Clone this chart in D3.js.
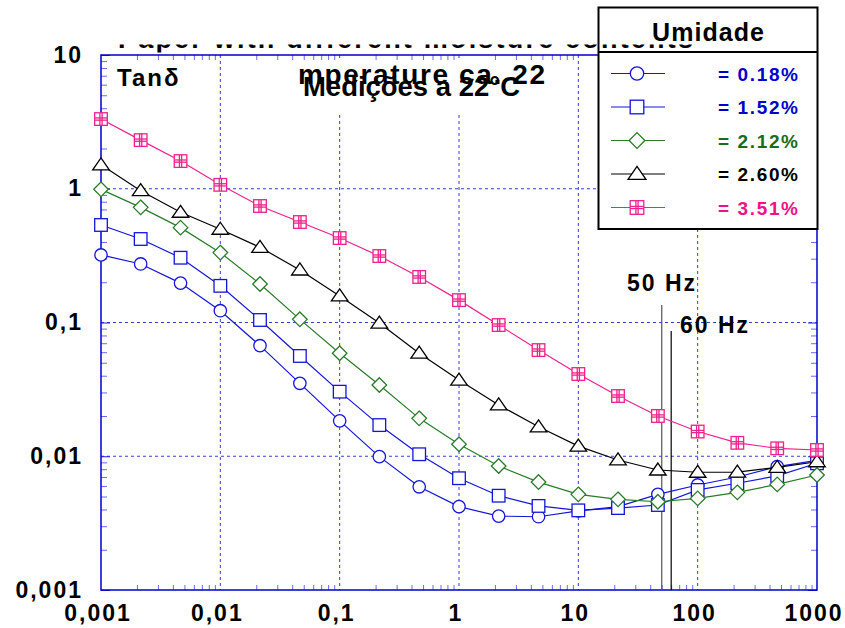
<!DOCTYPE html>
<html>
<head>
<meta charset="utf-8">
<script src="https://cdn.jsdelivr.net/npm/d3@7"></script>
<style>
  body { margin: 0; background: #fff; }
  text { font-family: "Liberation Sans", Arial, sans-serif; font-weight: bold; }
</style>
</head>
<body>
<div id="container"></div>
<script>
// frequency (Hz), 3 points per decade
const freq = [0.001, 0.00215, 0.00464, 0.01, 0.0215, 0.0464, 0.1, 0.215, 0.464, 1,
              2.15, 4.64, 10, 21.5, 46.4, 100, 215, 464, 1000];

// tan delta per moisture content
const h018 = [0.32, 0.274, 0.197, 0.1225, 0.0671, 0.0351, 0.0184, 0.00993, 0.00591, 0.0042,
              0.00357, 0.00353, 0.0039, 0.0042, 0.00519, 0.0061, 0.007, 0.00836, 0.0093];
const h152 = [0.536, 0.421, 0.305, 0.188, 0.1044, 0.0562, 0.0304, 0.0171, 0.01035, 0.00685,
              0.00507, 0.00425, 0.00394, 0.0041, 0.00432, 0.0056, 0.00628, 0.00713, 0.00886];
const h212 = [0.99, 0.726, 0.512, 0.333, 0.194, 0.1056, 0.0589, 0.0341, 0.0192, 0.0123,
              0.00845, 0.00641, 0.00519, 0.00476, 0.00457, 0.00484, 0.00537, 0.00616, 0.00724];
const h260 = [1.51, 0.967, 0.667, 0.498, 0.365, 0.247, 0.158, 0.099, 0.059, 0.0371,
              0.0242, 0.0166, 0.0119, 0.00938, 0.00789, 0.00759, 0.0076, 0.00826, 0.0091];
const h351 = [3.32, 2.31, 1.61, 1.07, 0.743, 0.564, 0.428, 0.314, 0.219, 0.147,
              0.0957, 0.0622, 0.0412, 0.0282, 0.020, 0.0153, 0.0126, 0.01146, 0.01114];

const legendLabels = ["= 0.18%", "= 1.52%", "= 2.12%", "= 2.60%", "= 3.51%"];
const xTicks = [0.001, 0.01, 0.1, 1, 10, 100, 1000];
const xTickLabels = ["0,001", "0,01", "0,1", "1", "10", "100", "1000"];
const yTicks = [0.001, 0.01, 0.1, 1, 10];
const yTickLabels = ["0,001", "0,01", "0,1", "1", "10"];
const markLines = [50, 60];

const series = [
  { vals: h018, shape: 'circle',   color: '#1414dc', text: '#0000cc' },
  { vals: h152, shape: 'square',   color: '#1414dc', text: '#0000cc' },
  { vals: h212, shape: 'diamond',  color: '#2a7a2a', text: '#1b6b1b' },
  { vals: h260, shape: 'triangle', color: '#000000', text: '#000000' },
  { vals: h351, shape: 'grid',     color: '#f0208c', text: '#ee1188' }
];

const width = 845, height = 628;
const pl = 101, pr = 817, pt = 55, pb = 590;

const x = d3.scaleLog().domain([0.001, 1000]).range([pl, pr]);
const y = d3.scaleLog().domain([0.001, 10]).range([pb, pt]);

const svg = d3.select('#container').append('svg')
  .attr('width', width).attr('height', height);

const isDecade = v => Math.abs(Math.log10(v) - Math.round(Math.log10(v))) < 1e-9;

// grid
const gx = xTicks.slice(1, -1), gy = yTicks.slice(1, -1);
svg.append('g').selectAll('line').data(gx).enter().append('line')
  .attr('x1', d => x(d)).attr('x2', d => x(d)).attr('y1', pt).attr('y2', pb)
  .attr('stroke', '#3a3ae8').attr('stroke-width', 1).attr('stroke-dasharray', '3,3');
svg.append('g').selectAll('line').data(gy).enter().append('line')
  .attr('y1', d => y(d)).attr('y2', d => y(d)).attr('x1', pl).attr('x2', pr)
  .attr('stroke', '#3a3ae8').attr('stroke-width', 1).attr('stroke-dasharray', '3,3');

// white box behind the subtitle text
svg.append('rect').attr('x', 292).attr('y', 61).attr('width', 258).attr('height', 54).attr('fill', '#fff');

// minor ticks on all four sides (drawn inward)
const xMinor = x.ticks().filter(v => !isDecade(v));
const yMinor = y.ticks().filter(v => !isDecade(v));
const tickCol = '#6b6bf0';
svg.append('g').attr('transform', `translate(0,${pb})`)
  .call(d3.axisBottom(x).tickValues(xMinor).tickSize(-5).tickFormat(''))
  .call(g => g.select('.domain').remove()).selectAll('line').attr('stroke', tickCol);
svg.append('g').attr('transform', `translate(0,${pt})`)
  .call(d3.axisTop(x).tickValues(xMinor).tickSize(-5).tickFormat(''))
  .call(g => g.select('.domain').remove()).selectAll('line').attr('stroke', tickCol);
svg.append('g').attr('transform', `translate(${pl},0)`)
  .call(d3.axisLeft(y).tickValues(yMinor).tickSize(-6).tickFormat(''))
  .call(g => g.select('.domain').remove()).selectAll('line').attr('stroke', tickCol);
svg.append('g').attr('transform', `translate(${pr},0)`)
  .call(d3.axisRight(y).tickValues(yMinor).tickSize(-6).tickFormat(''))
  .call(g => g.select('.domain').remove()).selectAll('line').attr('stroke', tickCol);
// major y ticks
svg.append('g').attr('transform', `translate(${pl},0)`)
  .call(d3.axisLeft(y).tickValues(yTicks).tickSize(-9).tickFormat(''))
  .call(g => g.select('.domain').remove()).selectAll('line').attr('stroke', '#2020e0');
svg.append('g').attr('transform', `translate(${pr},0)`)
  .call(d3.axisRight(y).tickValues(yTicks).tickSize(-9).tickFormat(''))
  .call(g => g.select('.domain').remove()).selectAll('line').attr('stroke', '#2020e0');

// frame
svg.append('rect').attr('x', pl).attr('y', pt).attr('width', pr - pl).attr('height', pb - pt)
  .attr('fill', 'none').attr('stroke', '#0000cc').attr('stroke-width', 1.5);

// tick labels
svg.append('g').selectAll('text').data(xTicks).enter().append('text')
  .attr('x', d => x(d) - 3).attr('y', 621).attr('text-anchor', 'middle')
  .attr('font-size', 23).attr('letter-spacing', 2).attr('fill', '#000')
  .text((d, i) => xTickLabels[i]);
svg.append('g').selectAll('text').data(yTicks).enter().append('text')
  .attr('x', 83).attr('y', d => y(d) + 7.5).attr('text-anchor', 'end')
  .attr('font-size', 23).attr('letter-spacing', 2).attr('fill', '#000')
  .text((d, i) => yTickLabels[i]);

// 50 Hz / 60 Hz markers
svg.append('line').attr('x1', x(markLines[0])).attr('x2', x(markLines[0]))
  .attr('y1', 305).attr('y2', pb).attr('stroke', '#555').attr('stroke-width', 1.2);
svg.append('line').attr('x1', x(markLines[1])).attr('x2', x(markLines[1]))
  .attr('y1', 331).attr('y2', pb).attr('stroke', '#000').attr('stroke-width', 1.2);
svg.append('text').attr('x', 627).attr('y', 291).attr('font-size', 23).attr('letter-spacing', 2).text('50 Hz');
svg.append('text').attr('x', 680).attr('y', 333).attr('font-size', 23).attr('letter-spacing', 2).text('60 Hz');

function marker(g, shape, cx, cy, color, s) {
  s = s || 1;
  const m = g.append('g').attr('transform', `translate(${cx},${cy})`)
    .attr('fill', '#fff').attr('stroke', color).attr('stroke-width', 1.3);
  if (shape === 'circle') m.append('circle').attr('r', 6.2 * s);
  else if (shape === 'square') m.append('rect').attr('x', -6.3 * s).attr('y', -6.3 * s).attr('width', 12.6 * s).attr('height', 12.6 * s);
  else if (shape === 'diamond') {
    const h = 7.3 * s;
    m.append('path').attr('d', `M0,${-h}L${h},0L0,${h}L${-h},0Z`);
  }
  else if (shape === 'triangle') m.append('path').attr('d', `M0,${-7 * s}L${8.3 * s},${5 * s}L${-8.3 * s},${5 * s}Z`);
  else if (shape === 'grid') {
    const h = 6.3 * s;
    m.append('rect').attr('x', -h).attr('y', -h).attr('width', 2 * h).attr('height', 2 * h);
    [-1.1, 1.1].forEach(o => {
      m.append('line').attr('x1', o).attr('x2', o).attr('y1', -h).attr('y2', h);
      m.append('line').attr('y1', o).attr('y2', o).attr('x1', -h).attr('x2', h);
    });
  }
}

// series
const line = d3.line().x(d => x(d[0])).y(d => y(d[1]));
series.forEach(s => {
  const pts = freq.map((f, i) => [f, s.vals[i]]);
  const g = svg.append('g');
  g.append('path').attr('d', line(pts)).attr('fill', 'none')
    .attr('stroke', s.color).attr('stroke-width', 1.2);
  pts.forEach(p => marker(g, s.shape, x(p[0]), y(p[1]), s.color));
});

// texts inside plot
svg.append('text').attr('x', 117).attr('y', 86).attr('font-size', 24).attr('letter-spacing', 2).text('Tanδ');
svg.append('text').attr('x', 298).attr('y', 84).attr('font-size', 28)
  .attr('textLength', 247).attr('lengthAdjust', 'spacing').text('mperature ca. 22');
svg.append('text').attr('x', 303).attr('y', 96).attr('font-size', 27)
  .attr('textLength', 217).attr('lengthAdjust', 'spacingAndGlyphs').text('Medições a 22°C');

// legend
const lg = svg.append('g');
lg.append('rect').attr('x', 598.5).attr('y', 7.5).attr('width', 219).attr('height', 221.5)
  .attr('fill', '#fff').attr('stroke', '#000').attr('stroke-width', 2);
lg.append('line').attr('x1', 598.5).attr('x2', 817.5).attr('y1', 52).attr('y2', 52)
  .attr('stroke', '#000').attr('stroke-width', 2);
lg.append('text').attr('x', 708).attr('y', 41).attr('text-anchor', 'middle')
  .attr('font-size', 25).attr('textLength', 112).attr('lengthAdjust', 'spacing').text('Umidade');
const rowY = d3.scalePoint().domain(d3.range(series.length)).range([73.5, 207.5]);
series.forEach((s, i) => {
  const cy = rowY(i);
  lg.append('line').attr('x1', 611).attr('x2', 665).attr('y1', cy).attr('y2', cy)
    .attr('stroke', s.color).attr('stroke-width', 1.2);
  marker(lg, s.shape, 637, cy, s.color, 1.08);
  lg.append('text').attr('x', 718).attr('y', cy + 7).attr('font-size', 19)
    .attr('textLength', 80).attr('lengthAdjust', 'spacing')
    .attr('fill', s.text).text(legendLabels[i]);
});

// partly hidden title (only the lower strip shows)
svg.append('clipPath').attr('id', 'tclip').append('rect')
  .attr('x', 0).attr('y', 44.5).attr('width', width).attr('height', 8);
svg.append('text').attr('clip-path', 'url(#tclip)').attr('x', 118).attr('y', 47.5)
  .attr('font-size', 27).attr('textLength', 575).attr('lengthAdjust', 'spacing')
  .text('Paper with different moisture contents');
</script>
</body>
</html>
